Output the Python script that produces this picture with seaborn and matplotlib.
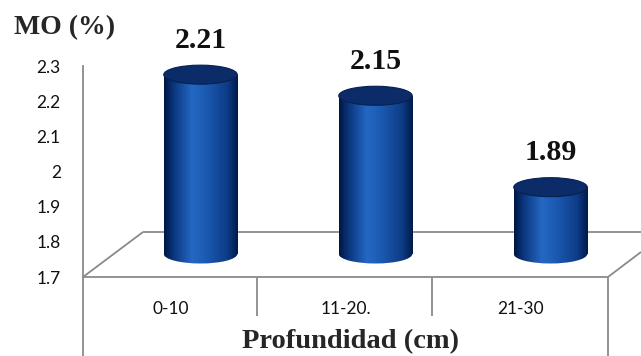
import numpy as np
import pandas as pd
import matplotlib
matplotlib.use("Agg")
import matplotlib.pyplot as plt
import seaborn as sns
from matplotlib.patches import Ellipse, Rectangle
from matplotlib.colors import LinearSegmentedColormap

# ---- data ----
categories = ["0-10", "11-20.", "21-30"]
values = [2.21, 2.15, 1.89]
value_labels = ["2.21", "2.15", "1.89"]
y_ticks = [1.7, 1.8, 1.9, 2.0, 2.1, 2.2, 2.3]
y_tick_labels = ["1.7", "1.8", "1.9", "2", "2.1", "2.2", "2.3"]
y_label = "MO (%)"
x_label = "Profundidad (cm)"

sns.set_style("white")
plt.rcParams["font.family"] = ["Lato", "DejaVu Sans"]

W, H = 641, 356
fig = plt.figure(figsize=(W / 100, H / 100), dpi=100)
fig.patch.set_facecolor("white")

GRAY = "#8a8a8a"
SERIF = ["Liberation Serif", "DejaVu Serif"]
PX_PER_UNIT = 211 / 0.6

# overlay axes in pixel coordinates for the 3D floor decoration
ov = fig.add_axes([0, 0, 1, 1], zorder=0)
ov.set_xlim(0, W)
ov.set_ylim(H, 0)
ov.axis("off")
lw = 1.3
for (x0, y0, x1, y1) in [
    (83, 277, 608, 277),   # front edge
    (83, 277, 143, 232),   # left depth
    (143, 232, 641, 232),  # back edge
    (608, 277, 641, 252),  # right depth
    (257, 277, 257, 316),
    (432, 277, 432, 316),
    (608, 277, 608, 356),
    (83, 277, 83, 356),
]:
    ov.plot([x0, x1], [y0, y1], color=GRAY, lw=lw, solid_capstyle="butt")

# main axes (value axis, categories)
ax = fig.add_axes([83 / W, (H - 277) / H, 525 / W, 211 / H], zorder=1)
ax.patch.set_alpha(0)
ax.set_ylim(1.7, 2.3)
ax.set_xlim(-0.5, 2.5)
ax.set_yticks(y_ticks)
ax.set_yticklabels(y_tick_labels, fontsize=12.5, color="#101010")
ax.set_xticks(range(len(categories)))
ax.set_xticklabels(categories, fontsize=12.5, color="#101010")
ax.tick_params(axis="x", length=0, pad=17)
ax.tick_params(axis="y", length=5, width=1, color=GRAY, pad=11)
for s in ["top", "right", "bottom"]:
    ax.spines[s].set_visible(False)
ax.spines["left"].set_color(GRAY)
ax.spines["left"].set_linewidth(lw)

ax.set_ylabel(y_label, rotation=0, fontsize=20, fontweight="bold", family=SERIF)
ax.yaxis.set_label_coords((65 - 83) / 525, (277 - 28) / 211)
ax.yaxis.label.set_va("center")
ax.yaxis.label.set_ha("center")
ax.set_xlabel(x_label, fontsize=20.5, fontweight="bold", family=SERIF)
ax.xaxis.set_label_coords((351 - 83) / 525, (277 - 342) / 211)
ax.xaxis.label.set_va("center")

# bar axes, shifted into the depth of the floor
base = 1.7
lo = 1.65
base_px = 254
bx_bottom_px = base_px + (base - lo) * PX_PER_UNIT
bx_h_px = (2.3 - lo) * PX_PER_UNIT
bx = fig.add_axes([113 / W, (H - bx_bottom_px) / H, 525 / W, bx_h_px / H], zorder=2)
bx.patch.set_alpha(0)
df = pd.DataFrame({"Profundidad": categories, "MO": values})
sns.barplot(data=df, x="Profundidad", y="MO", ax=bx, width=0.42,
            color="#1a4f9c", saturation=1)

cmap = LinearSegmentedColormap.from_list(
    "cyl",
    [(0.0, "#001642"), (0.12, "#0a347a"), (0.38, "#2468c4"),
     (0.6, "#1a57ad"), (0.85, "#0d3d88"), (1.0, "#001a4a")],
)
grad = np.linspace(0, 1, 256).reshape(1, -1)
eh = 19 / PX_PER_UNIT  # ellipse height in data units

for p, v, lab in zip(list(bx.patches), values, value_labels):
    x0 = p.get_x()
    w = p.get_width()
    cx = x0 + w / 2
    p.set_y(base)
    p.set_height(v - base)
    p.set_visible(False)
    top = v
    # body
    rect = Rectangle((x0, base), w, top - base, transform=bx.transData)
    im = bx.imshow(grad, extent=[x0, x0 + w, base - eh, top], aspect="auto",
                   cmap=cmap, interpolation="bicubic", zorder=3)
    im.set_clip_path(rect)
    # bottom ellipse
    be = Ellipse((cx, base), w, eh, transform=bx.transData)
    im2 = bx.imshow(grad, extent=[x0, x0 + w, base - eh, top], aspect="auto",
                    cmap=cmap, interpolation="bicubic", zorder=3)
    im2.set_clip_path(be)
    # top ellipse
    bx.add_patch(Ellipse((cx, top), w, eh, facecolor="#0b2c68",
                         edgecolor="#07204f", lw=0.8, zorder=5))
    bx.text(cx, top + eh / 2 + 25 / PX_PER_UNIT, lab, ha="center", va="center",
            fontsize=21.5, fontweight="bold", family=SERIF, color="#111111",
            zorder=6)

bx.set_ylim(lo, 2.3)
bx.set_xlim(-0.5, 2.5)
bx.axis("off")

fig.savefig("out.png", dpi=100, facecolor="white")
